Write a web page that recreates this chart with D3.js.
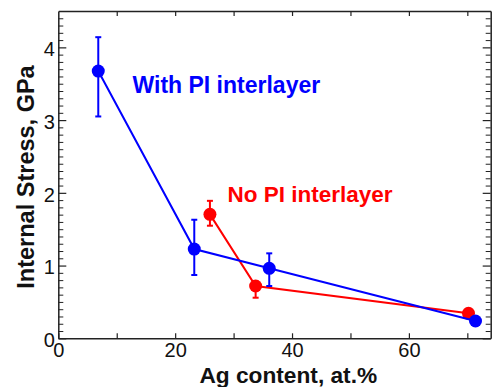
<!DOCTYPE html>
<html>
<head>
<meta charset="utf-8">
<script src="https://cdn.jsdelivr.net/npm/d3@7"></script>
<style>
  body { margin: 0; background: #fff; }
  text { font-family: "Liberation Sans", Arial, sans-serif; }
</style>
</head>
<body>
<div id="chart"></div>
<script>
// data
var blueAg     = [6.84, 23.27, 36.1, 71.4];
var blueStress = [3.674, 1.227, 0.962, 0.238];
var blueErrLo  = [3.05, 0.87, 0.719, 0.238];
var blueErrHi  = [4.14, 1.63, 1.168, 0.238];

var redAg     = [25.95, 33.77, 70.2];
var redStress = [1.704, 0.719, 0.344];
var redErrLo  = [1.548, 0.558, 0.344];
var redErrHi  = [1.89, 0.78, 0.344];

var xTicks = [0, 20, 40, 60];
var yTicks = [0, 1, 2, 3, 4];

var svgWidth = 494, svgHeight = 387;
var margin = { top: 11, right: 3.3, bottom: 48.7, left: 58.3 };
var width = svgWidth - margin.left - margin.right;
var height = svgHeight - margin.top - margin.bottom;

var svg = d3.select("#chart").append("svg")
    .attr("width", svgWidth)
    .attr("height", svgHeight);

var g = svg.append("g")
    .attr("transform", `translate(${margin.left}, ${margin.top})`);

var xScale = d3.scaleLinear().domain([0, 74]).range([0, width]);
var yScale = d3.scaleLinear().domain([0, 4.5]).range([height, 0]);

var axisColor = "#222";

// bottom axis, ticks inward
var xMinor = d3.range(0, 75, 10);
g.append("g")
    .attr("transform", `translate(0, ${height})`)
    .call(d3.axisBottom(xScale).tickValues(xMinor).tickSizeInner(-5).tickSizeOuter(0).tickFormat(""))
    .call(a => a.select(".domain").attr("stroke", axisColor).attr("stroke-width", 1.5))
    .call(a => a.selectAll(".tick line").attr("stroke", axisColor).attr("stroke-width", 1.2));

g.append("g")
    .attr("transform", `translate(0, ${height})`)
    .call(d3.axisBottom(xScale).tickValues(xTicks).tickSize(0).tickPadding(5).tickFormat(d3.format("d")))
    .call(a => a.select(".domain").remove())
    .call(a => a.selectAll("text").attr("font-size", "20px").attr("fill", "#111"));

// top axis
g.append("g")
    .call(d3.axisTop(xScale).tickValues(xMinor.filter(d => d > 0)).tickSizeInner(-5).tickSizeOuter(0).tickFormat(""))
    .call(a => a.select(".domain").attr("stroke", axisColor).attr("stroke-width", 1.5))
    .call(a => a.selectAll(".tick line").attr("stroke", axisColor).attr("stroke-width", 1.2));

// left axis: minor every 0.1, major every 1
var yMinor = d3.range(0, 45).map(d => d / 10).filter(d => d % 1 !== 0);
g.append("g")
    .call(d3.axisLeft(yScale).tickValues(yMinor).tickSizeInner(-5).tickSizeOuter(0).tickFormat(""))
    .call(a => a.select(".domain").attr("stroke", axisColor).attr("stroke-width", 1.5))
    .call(a => a.selectAll(".tick line").attr("stroke", axisColor).attr("stroke-width", 1));

g.append("g")
    .call(d3.axisLeft(yScale).tickValues(yTicks).tickSizeInner(-8).tickSizeOuter(0).tickPadding(3.5).tickFormat(d3.format("d")))
    .call(a => a.select(".domain").remove())
    .call(a => a.selectAll(".tick line").attr("stroke", axisColor).attr("stroke-width", 1.2))
    .call(a => a.selectAll("text").attr("font-size", "20px").attr("fill", "#111").attr("dy", "0.42em"));

// right axis
g.append("g")
    .attr("transform", `translate(${width}, 0)`)
    .call(d3.axisRight(yScale).tickValues(yMinor).tickSizeInner(-5).tickSizeOuter(0).tickFormat(""))
    .call(a => a.select(".domain").attr("stroke", axisColor).attr("stroke-width", 1.5))
    .call(a => a.selectAll(".tick line").attr("stroke", axisColor).attr("stroke-width", 1));

g.append("g")
    .attr("transform", `translate(${width}, 0)`)
    .call(d3.axisRight(yScale).tickValues(yTicks).tickSizeInner(-8).tickSizeOuter(0).tickFormat(""))
    .call(a => a.select(".domain").remove())
    .call(a => a.selectAll(".tick line").attr("stroke", axisColor).attr("stroke-width", 1.2));

// series drawing
function drawSeries(xs, ys, lo, hi, color) {
    var pts = xs.map((x, i) => ({ x: x, y: ys[i], lo: lo[i], hi: hi[i] }));
    var line = d3.line().x(d => xScale(d.x)).y(d => yScale(d.y));

    g.append("path")
        .datum(pts)
        .attr("d", line)
        .attr("fill", "none")
        .attr("stroke", color)
        .attr("stroke-width", 2);

    var err = g.append("g").selectAll("g")
        .data(pts.filter(d => d.hi > d.lo))
        .enter().append("g");
    err.append("line")
        .attr("x1", d => xScale(d.x)).attr("x2", d => xScale(d.x))
        .attr("y1", d => yScale(d.lo)).attr("y2", d => yScale(d.hi))
        .attr("stroke", color).attr("stroke-width", 2);
    err.append("line")
        .attr("x1", d => xScale(d.x) - 3).attr("x2", d => xScale(d.x) + 3)
        .attr("y1", d => yScale(d.hi)).attr("y2", d => yScale(d.hi))
        .attr("stroke", color).attr("stroke-width", 2);
    err.append("line")
        .attr("x1", d => xScale(d.x) - 3).attr("x2", d => xScale(d.x) + 3)
        .attr("y1", d => yScale(d.lo)).attr("y2", d => yScale(d.lo))
        .attr("stroke", color).attr("stroke-width", 2);

    g.append("g").selectAll("circle")
        .data(pts)
        .enter().append("circle")
        .attr("cx", d => xScale(d.x))
        .attr("cy", d => yScale(d.y))
        .attr("r", 6.5)
        .attr("fill", color);
}

drawSeries(redAg, redStress, redErrLo, redErrHi, "#ff0000");
drawSeries(blueAg, blueStress, blueErrLo, blueErrHi, "#0000ff");

// series labels
svg.append("text")
    .attr("x", 132.5).attr("y", 93.3)
    .attr("font-size", "23px").attr("font-weight", "bold")
    .attr("fill", "#0000ff")
    .text("With PI interlayer");

svg.append("text")
    .attr("x", 227.5).attr("y", 201.7)
    .attr("font-size", "22.5px").attr("font-weight", "bold")
    .attr("fill", "#ff0000")
    .text("No PI interlayer");

// axis titles
svg.append("text")
    .attr("transform", "translate(34, 177) rotate(-90)")
    .attr("text-anchor", "middle")
    .attr("font-size", "23.5px").attr("font-weight", "bold")
    .attr("fill", "#111")
    .text("Internal Stress, GPa");

svg.append("text")
    .attr("x", 288.3).attr("y", 383.3)
    .attr("text-anchor", "middle")
    .attr("font-size", "22.7px").attr("font-weight", "bold")
    .attr("fill", "#111")
    .text("Ag content, at.%");
</script>
</body>
</html>
